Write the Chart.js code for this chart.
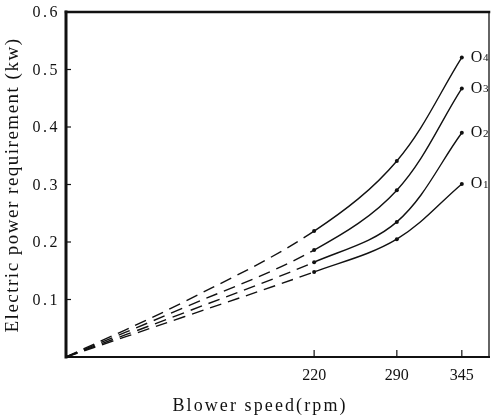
<!DOCTYPE html>
<html>
<head>
<meta charset="utf-8">
<script src="https://cdn.jsdelivr.net/npm/chart.js@4/dist/chart.umd.min.js"></script>
<style>
  html, body { margin: 0; padding: 0; background: #fff; }
  #wrap { width: 491px; height: 415px; }
</style>
</head>
<body>
<div id="wrap"><canvas id="c" width="491" height="415"></canvas></div>
<script>
// ---- data ----
const speeds = [10, 110, 220, 290, 345];           // blower speed (rpm)
const o1 = [0, 0.070, 0.148, 0.205, 0.301];         // kW
const o2 = [0, 0.077, 0.165, 0.235, 0.390];
const o3 = [0, 0.086, 0.186, 0.290, 0.467];
const o4 = [0, 0.096, 0.219, 0.341, 0.521];
const seriesLabels = ['1', '2', '3', '4'];
const xTickValues = [220, 290, 345];
const yTickValues = [0, 0.1, 0.2, 0.3, 0.4, 0.5, 0.6];
const measuredFrom = 220;  // dashed (extrapolated) below this speed
const xTitle = 'Blower speed(rpm)';
const yTitle = 'Electric power requirement (kw)';

const INK = '#111';
const SERIF = '"Liberation Serif", "DejaVu Serif", serif';

function makeDataset(vals, i) {
  return {
    label: 'O' + seriesLabels[i],
    data: speeds.map((s, k) => ({ x: s, y: vals[k] })),
    borderColor: INK,
    backgroundColor: INK,
    borderWidth: 1.4,
    tension: 0.35,
    pointRadius: ctx => (ctx.raw && ctx.raw.x >= measuredFrom ? 2 : 0),
    pointHoverRadius: 0,
    pointBorderWidth: 0,
    segment: {
      borderDash: ctx => (ctx.p1.parsed.x <= measuredFrom ? [12, 7] : undefined)
    },
    clip: false
  };
}

const decor = {
  id: 'decor',
  afterDraw(chart) {
    const ctx = chart.ctx;
    const a = chart.chartArea;
    const xs = chart.scales.x, ys = chart.scales.y;
    ctx.save();
    ctx.strokeStyle = INK;
    ctx.fillStyle = INK;
    ctx.lineCap = 'square';
    // frame
    ctx.lineWidth = 3;
    ctx.beginPath(); ctx.moveTo(a.left, a.top); ctx.lineTo(a.left, a.bottom); ctx.stroke();
    ctx.lineWidth = 2.5;
    ctx.beginPath(); ctx.moveTo(a.left, a.top); ctx.lineTo(a.right, a.top); ctx.stroke();
    ctx.lineWidth = 2;
    ctx.beginPath(); ctx.moveTo(a.left, a.bottom); ctx.lineTo(a.right, a.bottom); ctx.stroke();
    ctx.lineWidth = 1.3;
    ctx.beginPath(); ctx.moveTo(a.right, a.top); ctx.lineTo(a.right, a.bottom); ctx.stroke();

    // inward tick marks
    ctx.lineWidth = 1.2;
    ctx.lineCap = 'butt';
    ys.ticks.forEach(t => {
      if (t.value <= 0 || t.value >= 0.6) return;
      const y = ys.getPixelForValue(t.value);
      ctx.beginPath(); ctx.moveTo(a.left, y); ctx.lineTo(a.left + 5, y); ctx.stroke();
    });
    xs.ticks.forEach(t => {
      const x = xs.getPixelForValue(t.value);
      ctx.beginPath(); ctx.moveTo(x, a.bottom); ctx.lineTo(x, a.bottom - 7); ctx.stroke();
    });

    // y tick labels (spaced serif digits)
    ctx.font = '16px ' + SERIF;
    ctx.letterSpacing = '2.5px';
    ctx.textBaseline = 'middle';
    ctx.textAlign = 'left';
    ys.ticks.forEach(t => {
      if (t.value <= 0) return;
      const s = t.value.toFixed(1);
      const w = ctx.measureText(s).width;
      ctx.fillText(s, 60 - w, ys.getPixelForValue(t.value) + 1);
    });

    // y title
    ctx.save();
    ctx.font = '19px ' + SERIF;
    ctx.letterSpacing = '1.5px';
    ctx.translate(13, 185);
    ctx.rotate(-Math.PI / 2);
    ctx.textAlign = 'left';
    ctx.textBaseline = 'middle';
    const wy = ctx.measureText(yTitle).width;
    ctx.fillText(yTitle, -wy / 2, 0);
    ctx.restore();

    // x title
    ctx.font = '18px ' + SERIF;
    ctx.letterSpacing = '2.1px';
    ctx.textAlign = 'left';
    ctx.textBaseline = 'middle';
    const wx = ctx.measureText(xTitle).width;
    ctx.fillText(xTitle, 260 - wx / 2, 406);

    // series labels at curve ends
    ctx.letterSpacing = '0px';
    chart.data.datasets.forEach((ds, i) => {
      const meta = chart.getDatasetMeta(i);
      const p = meta.data[meta.data.length - 1];
      ctx.font = '16px ' + SERIF;
      ctx.textBaseline = 'middle';
      const x0 = p.x + 9, y0 = p.y;
      ctx.fillText('O', x0, y0);
      const wO = ctx.measureText('O').width;
      ctx.font = '11px ' + SERIF;
      ctx.fillText(seriesLabels[i], x0 + wO + 0.5, y0 + 1);
    });
    ctx.restore();
  }
};

new Chart(document.getElementById('c'), {
  type: 'line',
  data: { datasets: [o1, o2, o3, o4].map(makeDataset) },
  options: {
    responsive: false,
    animation: false,
    events: [],
    layout: { padding: { left: 0, top: 12, right: 2, bottom: 0 } },
    plugins: { legend: { display: false }, tooltip: { enabled: false }, title: { display: false } },
    scales: {
      x: {
        type: 'linear',
        min: 10,
        max: 368,
        afterBuildTicks: s => { s.ticks = xTickValues.map(v => ({ value: v })); },
        afterFit: s => { s.height = 58; },
        grid: { display: false, drawTicks: false },
        border: { display: false },
        ticks: {
          color: INK,
          padding: 9,
          maxRotation: 0,
          autoSkip: false,
          font: { family: SERIF, size: 16 },
          callback: v => String(v)
        }
      },
      y: {
        type: 'linear',
        min: 0,
        max: 0.6,
        afterBuildTicks: s => { s.ticks = yTickValues.map(v => ({ value: v })); },
        afterFit: s => { s.width = 66; },
        grid: { display: false, drawTicks: false },
        border: { display: false },
        ticks: { display: false }
      }
    }
  },
  plugins: [decor]
});
</script>
</body>
</html>
